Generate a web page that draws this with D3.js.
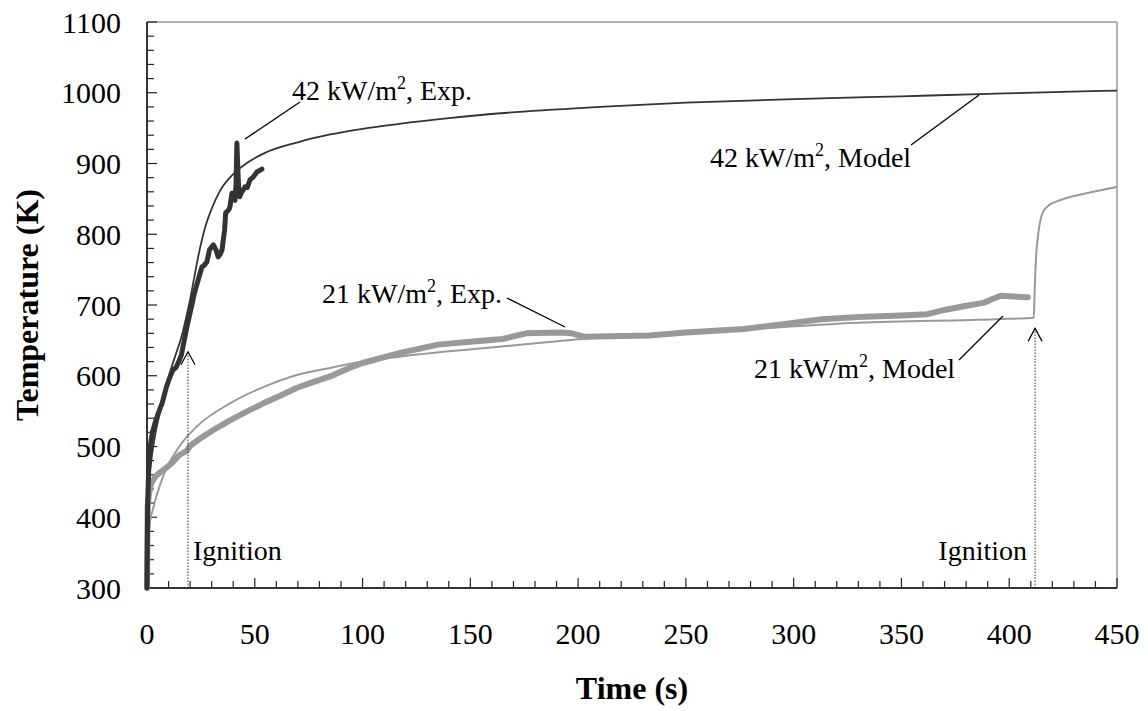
<!DOCTYPE html>
<html><head><meta charset="utf-8">
<script src="https://cdn.jsdelivr.net/npm/d3@7/dist/d3.min.js"></script>
<style>
html,body{margin:0;padding:0;background:#fff;}
svg{display:block;font-family:"Liberation Serif","Times New Roman",serif;}
</style></head>
<body>
<svg id="chart" width="1148" height="711"></svg>
<script>
// ---- data ----
const xTicks = [0,50,100,150,200,250,300,350,400,450];
const yTicks = [300,400,500,600,700,800,900,1000,1100];

const exp42 = [[0,300],[0.3,420],[0.8,470],[1.4,499],[2.5,520],[3.7,533],[5,545],[7,561],[9,584],[10.5,597],[12,608],[13.5,612],[15,622],[16,630],[17,646],[18.5,669],[20,689],[21,703],[22,717],[23.7,735],[25.5,754],[26.5,756],[27.8,761],[29,778],[30.8,785],[32,778],[33,768],[34,772],[34.8,778],[36,806],[36.5,830],[38,835],[38.5,839],[39.4,858],[40.2,850],[40.8,848],[41.3,870],[41.7,929],[42.2,887],[42.6,860],[43,853],[44,860],[45.5,867],[46.5,866],[47.8,877],[49,880],[51,888],[53.3,892]];

const model42 = [[0,300],[0.3,400],[1,450],[2,480],[4,520],[7,560],[10,598],[13,627],[16,655],[18,680],[20,708],[22,740],[24,772],[27,810],[30,836],[34,862],[40,885],[46,900],[54,914],[70,930],[85,941],[100,949],[117,956],[140,964],[164,971],[210,980],[250,986],[300,991],[350,995],[386,998],[420,1001],[450,1003]];

const exp21 = [[0,300],[0.3,415],[1,435],[2,448],[4,458],[6,463],[9,470],[12,478],[15,488],[18.5,494],[20,501],[25,512],[30.6,523],[38.5,537],[46,549],[54,561],[62,572],[69.6,583],[77,591],[85,599],[93,610],[100,618],[117,632],[135,644],[150,648],[165,652],[176,660],[192,661],[197,660],[203,655],[215,656],[233,657],[250,661],[277,666],[295,673],[313,680],[330,683],[350,685],[362,687],[370,693],[380,699],[388,703],[392,708],[396,713],[402,712],[408.6,711]];

const model21 = [[0,300],[0.3,360],[1,385],[3,414],[7.5,458],[15,500],[23,528],[38.5,561],[54,584],[69.6,601],[85,611],[100,620],[117,627],[171,643],[206,653],[260,662],[330,675],[394,680],[411.4,682],[411.8,720],[412.5,770],[413.5,802],[415.6,831],[418,840],[423.5,848],[430,854],[439,860],[450,867]];

const ignitionTimes = [19, 412];
const ignitionTips = [634, 667];

// ---- layout ----
const svg = d3.select("#chart");
const L = 147, R = 1117, T = 22, B = 588;
const x = d3.scaleLinear().domain([0,450]).range([L,R]);
const y = d3.scaleLinear().domain([300,1100]).range([B,T]);

// frame (top/right gray)
svg.append("line").attr("x1",L).attr("x2",R).attr("y1",T).attr("y2",T).attr("stroke","#9a9a9a").attr("stroke-width",1.5);
svg.append("line").attr("x1",R).attr("x2",R).attr("y1",T).attr("y2",B).attr("stroke","#9a9a9a").attr("stroke-width",1.5);

// minor ticks
const yMinor = d3.range(300,1101,20);
const xMinor = d3.range(0,451,10);
svg.append("g").selectAll("line").data(yMinor).join("line")
  .attr("x1",L).attr("x2",d=> d%100===0 ? L+10 : L+7)
  .attr("y1",d=>y(d)).attr("y2",d=>y(d)).attr("stroke","#222").attr("stroke-width",1.2);
svg.append("g").selectAll("line").data(xMinor).join("line")
  .attr("x1",d=>x(d)).attr("x2",d=>x(d))
  .attr("y1",B).attr("y2",d=> d%50===0 ? B-10 : B-7).attr("stroke","#222").attr("stroke-width",1.2);

// axes lines
svg.append("line").attr("x1",L).attr("x2",L).attr("y1",T).attr("y2",B).attr("stroke","#333").attr("stroke-width",2);
svg.append("line").attr("x1",L).attr("x2",R).attr("y1",B).attr("y2",B).attr("stroke","#333").attr("stroke-width",2);

// tick labels
svg.append("g").selectAll("text").data(yTicks).join("text")
  .attr("x",L-26).attr("y",d=>y(d)).attr("dy","0.35em").attr("text-anchor","end")
  .attr("font-size",30).attr("fill","#000").text(d=>d);
svg.append("g").selectAll("text").data(xTicks).join("text")
  .attr("x",d=>x(d)).attr("y",B+56).attr("text-anchor","middle")
  .attr("font-size",30).attr("fill","#000").text(d=>d);

// axis titles
svg.append("text").attr("transform",`translate(38,${(T+B)/2}) rotate(-90)`)
  .attr("text-anchor","middle").attr("font-size",32).attr("font-weight","bold").text("Temperature (K)");
svg.append("text").attr("x",(L+R)/2).attr("y",B+111).attr("text-anchor","middle")
  .attr("font-size",32).attr("font-weight","bold").text("Time (s)");

// lines
const line = d3.line().x(d=>x(d[0])).y(d=>y(d[1]));
const smooth = d3.line().x(d=>x(d[0])).y(d=>y(d[1])).curve(d3.curveMonotoneX);

svg.append("path").datum(exp21).attr("d",line).attr("fill","none").attr("stroke","#999").attr("stroke-width",6).attr("stroke-linejoin","round").attr("stroke-linecap","round");
svg.append("path").datum(model21).attr("d",smooth).attr("fill","none").attr("stroke","#999").attr("stroke-width",2);
svg.append("path").datum(model42).attr("d",smooth).attr("fill","none").attr("stroke","#333").attr("stroke-width",1.8);
svg.append("path").datum(exp42).attr("d",line).attr("fill","none").attr("stroke","#333").attr("stroke-width",5).attr("stroke-linejoin","round").attr("stroke-linecap","round");

// ignition arrows
ignitionTimes.forEach((t,i)=>{
  const xt = x(t), yt = y(ignitionTips[i]);
  svg.append("line").attr("x1",xt).attr("x2",xt).attr("y1",B).attr("y2",yt)
    .attr("stroke","#333").attr("stroke-width",1).attr("stroke-dasharray","1.5,1.5");
  svg.append("path").attr("d",`M${xt-7},${yt+13}L${xt},${yt}L${xt+7},${yt+13}`)
    .attr("fill","none").attr("stroke","#000").attr("stroke-width",1.2);
});

// annotations
function label(xp, yp, num, suffix){
  const t = svg.append("text").attr("x",xp).attr("y",yp).attr("font-size",28).attr("fill","#000");
  t.append("tspan").text(num+" kW/m");
  t.append("tspan").attr("dy",-11).attr("font-size",18).text("2");
  t.append("tspan").attr("dy",11).text(", "+suffix);
}
function leader(x1,y1,x2,y2){
  svg.append("line").attr("x1",x1).attr("y1",y1).attr("x2",x2).attr("y2",y2).attr("stroke","#000").attr("stroke-width",1.3);
}
label(292,100,"42","Exp.");
leader(300,102,245,139);
label(710,167,"42","Model");
leader(911,145,979,95);
label(322,303,"21","Exp.");
leader(507,298,565,327);
label(754,378,"21","Model");
leader(959,360,1003,316);

svg.append("text").attr("x",193).attr("y",560).attr("font-size",28).text("Ignition");
svg.append("text").attr("x",1027).attr("y",560).attr("font-size",28).attr("text-anchor","end").text("Ignition");
</script>
</body></html>
